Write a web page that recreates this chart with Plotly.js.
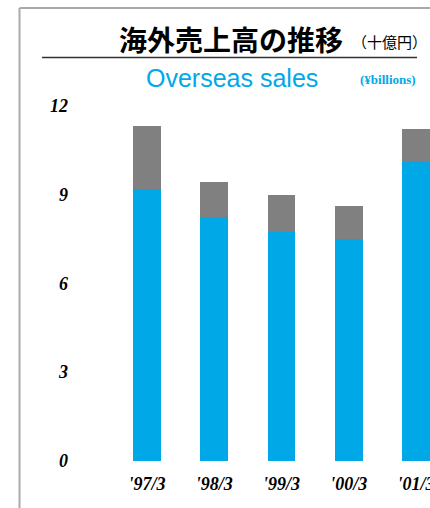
<!DOCTYPE html>
<html>
<head>
<meta charset="utf-8">
<script src="https://cdn.plot.ly/plotly-3.0.1.min.js"></script>
<style>
html,body{margin:0;padding:0;background:#fff;overflow:hidden;width:430px;height:508px;}
#chart{width:480px;height:508px;}
</style>
</head>
<body>
<div id="chart"></div>
<script>
// Data (¥ billions)
const categories = ["'97/3", "'98/3", "'99/3", "'00/3", "'01/3"];
const lowerValues = [9.2, 8.25, 7.75, 7.5, 10.14];   // blue segment
const upperValues = [2.13, 1.18, 1.24, 1.12, 1.08];  // grey segment
const yTickValues = [0, 3, 6, 9, 12];
const yTickLabels = ["0", "3", "6", "9", "12"];

const W = 480, H = 508;
const L = 75, R = 0, T = 90, B = 47;
const pw = W - L - R, ph = H - T - B;
function px(x){ return (x - L) / pw; }
function py(y){ return (H - B - y) / ph; }
// category 0 centred at 147px, 67.25px between categories
const step = 67.25, c0 = 147;
const xRange = [(L - c0) / step, (W - R - c0) / step];

const xIdx = categories.map((c, i) => i);
const tickFont = {family: "'Liberation Serif', serif", size: 18, color: '#000', weight: 'bold', style: 'italic'};

const traces = [
  {type: 'bar', x: xIdx, y: lowerValues, marker: {color: '#00A8E8'}, width: 0.416, hoverinfo: 'skip'},
  {type: 'bar', x: xIdx, y: upperValues, marker: {color: '#808080'}, width: 0.416, hoverinfo: 'skip'}
];

const layout = {
  width: W, height: H,
  margin: {l: L, r: R, t: T, b: B, pad: 0},
  barmode: 'stack',
  showlegend: false,
  paper_bgcolor: 'rgba(0,0,0,0)',
  plot_bgcolor: 'rgba(0,0,0,0)',
  xaxis: {
    range: xRange,
    tickmode: 'array', tickvals: xIdx, ticktext: categories,
    showgrid: false, zeroline: false, showline: false, ticks: '',
    tickfont: tickFont, ticklabelstandoff: 10
  },
  yaxis: {
    range: [0, 12.53],
    tickmode: 'array', tickvals: yTickValues, ticktext: yTickLabels,
    showgrid: false, zeroline: false, showline: false, ticks: '',
    tickfont: tickFont, ticklabelstandoff: 6
  },
  shapes: [
    {type: 'line', xref: 'paper', yref: 'paper', x0: px(19.5), x1: px(19.5), y0: py(8), y1: py(520), line: {color: '#aaaaaa', width: 2}},
    {type: 'line', xref: 'paper', yref: 'paper', x0: px(19.5), x1: px(480), y0: py(8), y1: py(8), line: {color: '#aaaaaa', width: 2}},
    {type: 'line', xref: 'paper', yref: 'paper', x0: px(42), x1: px(417), y0: py(57.5), y1: py(57.5), line: {color: '#333333', width: 1.5}}
  ],
  annotations: [
    {text: '海外売上高の推移', xref: 'paper', yref: 'paper', x: px(231), y: py(39), xanchor: 'center', yanchor: 'middle', showarrow: false,
     font: {family: "'Noto Sans CJK JP', sans-serif", size: 28, color: '#000', weight: 'bold'}},
    {text: '（十億円）', xref: 'paper', yref: 'paper', x: px(389), y: py(41), xanchor: 'center', yanchor: 'middle', showarrow: false,
     font: {family: "'Noto Sans CJK JP', sans-serif", size: 15, color: '#000'}},
    {text: 'Overseas sales', xref: 'paper', yref: 'paper', x: px(232), y: py(78), xanchor: 'center', yanchor: 'middle', showarrow: false,
     font: {family: "'Liberation Sans', Arial, sans-serif", size: 25, color: '#00A8E8'}},
    {text: '(¥billions)', xref: 'paper', yref: 'paper', x: px(388), y: py(80), xanchor: 'center', yanchor: 'middle', showarrow: false,
     font: {family: "'Liberation Serif', serif", size: 13, color: '#00A8E8', weight: 'bold'}}
  ]
};

Plotly.newPlot('chart', traces, layout, {displayModeBar: false, staticPlot: true});
</script>
</body>
</html>
